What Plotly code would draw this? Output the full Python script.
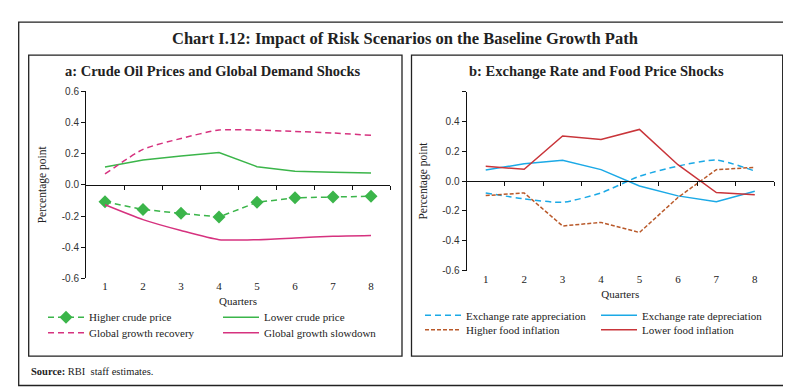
import plotly.graph_objects as go

W, H = 791, 390

quarters = [1, 2, 3, 4, 5, 6, 7, 8]

# Panel a
higher_crude = [-0.109, -0.158, -0.183, -0.206, -0.112, -0.083, -0.078, -0.073]
lower_crude = [0.114, 0.160, 0.185, 0.208, 0.117, 0.088, 0.081, 0.076]
growth_recovery = [0.070, 0.228, 0.298, 0.352, 0.352, 0.343, 0.333, 0.318]
growth_slowdown = [-0.128, -0.223, -0.293, -0.352, -0.352, -0.341, -0.330, -0.325]

# Panel b
fx_appreciation = [-0.079, -0.119, -0.142, -0.079, 0.033, 0.101, 0.142, 0.068]
fx_depreciation = [0.075, 0.116, 0.140, 0.077, -0.033, -0.099, -0.138, -0.068]
higher_food = [-0.097, -0.079, -0.301, -0.277, -0.345, -0.110, 0.077, 0.092]
lower_food = [0.099, 0.079, 0.303, 0.279, 0.347, 0.110, -0.077, -0.092]

yticks = [-0.6, -0.4, -0.2, 0.0, 0.2, 0.4, 0.6]
yticktext_a = ["-0.6", "-0.4", "-0.2", "0.0", "0.2", "0.4", "0.6"]
yticktext_b = ["-0.6", "-0.4", "-0.2", "0.0", "0.2", "0.4", ""]
between_ticks = [1.5, 2.5, 3.5, 4.5, 5.5, 6.5, 7.5, 8.5]

GREEN = "#3BB54A"
MAGENTA = "#D6327F"
CYAN = "#1BA9E6"
BROWN = "#B9592A"
RED = "#C9353A"

DASH = "6px,4px"
SHORT_DASH = "4px,2px"

SERIF = "Liberation Serif"
SANS = "Liberation Sans"


def px(x):
    return x / W


def py(y):
    return 1 - y / H


fig = go.Figure()

# Panel a traces
fig.add_trace(go.Scatter(x=quarters, y=higher_crude, name="Higher crude price",
                         mode="lines+markers", line=dict(color=GREEN, width=1.5, dash=DASH),
                         marker=dict(symbol="diamond", size=10, color=GREEN),
                         xaxis="x", yaxis="y", legend="legend"))
fig.add_trace(go.Scatter(x=quarters, y=lower_crude, name="Lower crude price",
                         mode="lines", line=dict(color=GREEN, width=1.5),
                         xaxis="x", yaxis="y", legend="legend2"))
fig.add_trace(go.Scatter(x=quarters, y=growth_recovery, name="Global growth recovery",
                         mode="lines", line=dict(color=MAGENTA, width=1.5, dash=DASH, shape="spline", smoothing=0.6),
                         xaxis="x", yaxis="y", legend="legend3"))
fig.add_trace(go.Scatter(x=quarters, y=growth_slowdown, name="Global growth slowdown",
                         mode="lines", line=dict(color=MAGENTA, width=1.5, shape="spline", smoothing=0.6),
                         xaxis="x", yaxis="y", legend="legend4"))

# Panel b traces
fig.add_trace(go.Scatter(x=quarters, y=fx_appreciation, name="Exchange rate appreciation",
                         mode="lines", line=dict(color=CYAN, width=1.5, dash=DASH, shape="spline", smoothing=0.6),
                         xaxis="x2", yaxis="y2", legend="legend5"))
fig.add_trace(go.Scatter(x=quarters, y=fx_depreciation, name="Exchange rate depreciation",
                         mode="lines", line=dict(color=CYAN, width=1.5),
                         xaxis="x2", yaxis="y2", legend="legend6"))
fig.add_trace(go.Scatter(x=quarters, y=higher_food, name="Higher food inflation",
                         mode="lines", line=dict(color=BROWN, width=1.5, dash=SHORT_DASH),
                         xaxis="x2", yaxis="y2", legend="legend7"))
fig.add_trace(go.Scatter(x=quarters, y=lower_food, name="Lower food inflation",
                         mode="lines", line=dict(color=RED, width=1.5),
                         xaxis="x2", yaxis="y2", legend="legend8"))

# Invisible helper traces so the zero-line axes get drawn
fig.add_trace(go.Scatter(x=[None], y=[None], xaxis="x3", yaxis="y", showlegend=False, hoverinfo="skip"))
fig.add_trace(go.Scatter(x=[None], y=[None], xaxis="x4", yaxis="y2", showlegend=False, hoverinfo="skip"))

dom_xa = [px(78), px(382)]
dom_ya = [py(273), py(80.7)]
dom_xb = [px(458.5), px(766)]
dom_yb = [py(265), py(81)]


def zero_pos(dom):
    return dom[0] + (0 - (-0.6)) / 1.2 * (dom[1] - dom[0])


tickfont_x = dict(family=SERIF, size=11, color="#222")
tickfont_y = dict(family=SANS, size=10, color="#333")
axtitle_font = dict(family=SERIF, size=11, color="#222")

common_x = dict(range=[0.5, 8.5], tickvals=quarters, ticktext=[str(q) for q in quarters],
                showline=False, ticks="", showgrid=False, zeroline=False,
                tickfont=tickfont_x, fixedrange=True,
                title=dict(text="Quarters", font=axtitle_font, standoff=6))
common_y = dict(range=[-0.6, 0.6], tickvals=yticks, showline=True, linecolor="#111", linewidth=1,
                ticks="outside", ticklen=4, tickcolor="#111", showgrid=False, zeroline=False,
                tickfont=tickfont_y, fixedrange=True,
                title=dict(text="Percentage point", font=dict(family=SERIF, size=11.5, color="#222"), standoff=12))
zero_axis = dict(range=[0.5, 8.5], tickvals=between_ticks, showticklabels=False, showline=True,
                 linecolor="#111", linewidth=1, ticks="outside", ticklen=4, tickcolor="#111",
                 showgrid=False, zeroline=False, anchor="free", fixedrange=True)

legend_font = dict(family=SERIF, size=11, color="#222")


def one_legend(xp, yp):
    return dict(x=px(xp), y=py(yp), xanchor="left", yanchor="middle",
                font=legend_font, bgcolor="rgba(0,0,0,0)", itemwidth=36,
                borderwidth=0)


layout_legends = {
    "legend": one_legend(35, 313),
    "legend2": one_legend(210, 313),
    "legend3": one_legend(35, 329),
    "legend4": one_legend(210, 329),
    "legend5": one_legend(412, 311),
    "legend6": one_legend(588, 311),
    "legend7": one_legend(412, 326),
    "legend8": one_legend(588, 326),
}

fig.update_layout(
    width=W, height=H,
    margin=dict(l=0, r=0, t=0, b=0),
    paper_bgcolor="white", plot_bgcolor="white",
    xaxis=dict(domain=dom_xa, anchor="y", **common_x),
    yaxis=dict(domain=dom_ya, anchor="x", ticktext=yticktext_a, **common_y),
    xaxis2=dict(domain=dom_xb, anchor="y2", **common_x),
    yaxis2=dict(domain=dom_yb, anchor="x2", ticktext=yticktext_b, **common_y),
    xaxis3=dict(domain=dom_xa, overlaying="x", position=zero_pos(dom_ya), **zero_axis),
    xaxis4=dict(domain=dom_xb, overlaying="x2", position=zero_pos(dom_yb), **zero_axis),
    showlegend=True,
    shapes=[
        dict(type="rect", xref="paper", yref="paper", x0=px(10.7), x1=px(784), y0=py(383.3), y1=py(9.3),
             line=dict(color="#222", width=1.3)),
        dict(type="rect", xref="paper", yref="paper", x0=px(20.7), x1=px(394), y0=py(353), y1=py(43.3),
             line=dict(color="#222", width=1.3)),
        dict(type="rect", xref="paper", yref="paper", x0=px(403.5), x1=px(774.7), y0=py(353), y1=py(43.3),
             line=dict(color="#222", width=1.3)),
    ],
    annotations=[
        dict(text="<b>Chart I.12: Impact of Risk Scenarios on the Baseline Growth Path</b>",
             x=px(397), y=py(26.7), xref="paper", yref="paper", showarrow=False,
             xanchor="center", yanchor="middle", font=dict(family=SERIF, size=16.5, color="#222")),
        dict(text="<b>a: Crude Oil Prices and Global Demand Shocks</b>",
             x=px(205), y=py(60), xref="paper", yref="paper", showarrow=False,
             xanchor="center", yanchor="middle", font=dict(family=SERIF, size=14.5, color="#222")),
        dict(text="<b>b: Exchange Rate and Food Price Shocks</b>",
             x=px(588), y=py(60), xref="paper", yref="paper", showarrow=False,
             xanchor="center", yanchor="middle", font=dict(family=SERIF, size=14.5, color="#222")),
        dict(text="<b>Source:</b> RBI  staff estimates.",
             x=px(21), y=py(369), xref="paper", yref="paper", showarrow=False,
             xanchor="left", yanchor="middle", font=dict(family=SERIF, size=10.5, color="#222")),
    ],
    **layout_legends,
)

fig.write_html("out.html")
